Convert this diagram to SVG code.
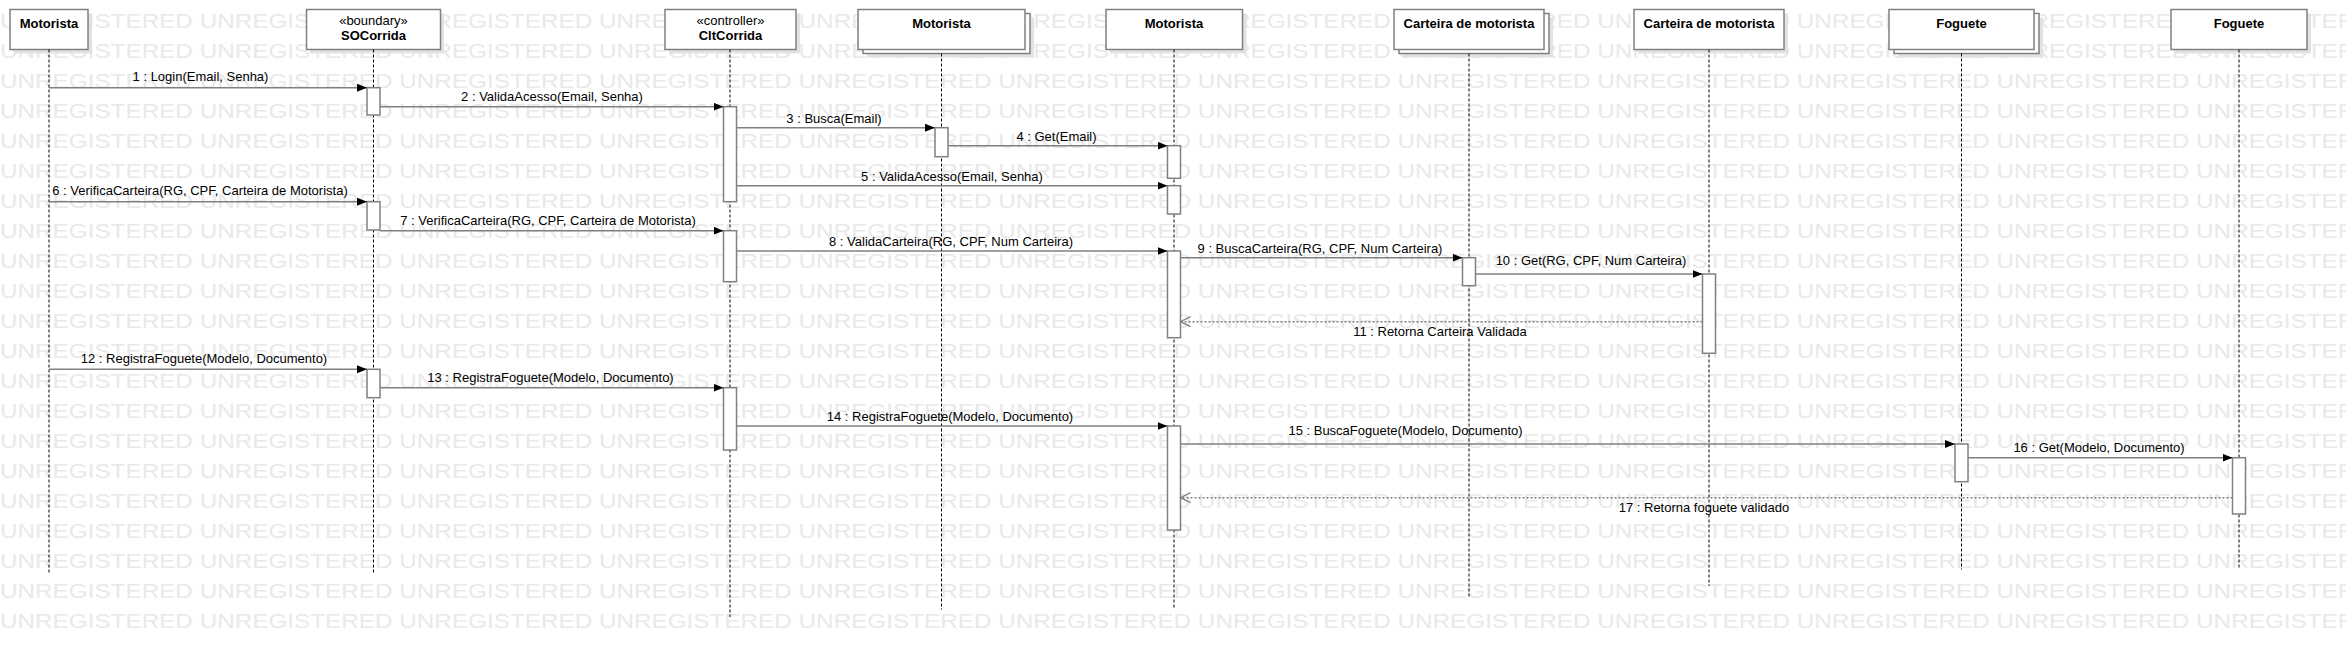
<svg xmlns="http://www.w3.org/2000/svg" width="2346" height="658" viewBox="0 0 2346 658">
<defs>
<style>
.wm{font-family:"Liberation Sans",Arial,sans-serif;font-size:21px;fill:#e9e9e9}
.hd{fill:#fff;stroke:#808080;stroke-width:1.5}
.sh{fill:#e2e2e2}
.t{font-family:"Liberation Sans",Arial,sans-serif;font-size:13px;fill:#000;text-anchor:middle}
.b{font-weight:bold}
.ll{stroke:#000;stroke-width:1;stroke-dasharray:3,2;fill:none}
.act{fill:#fff;stroke:#808080;stroke-width:1.5}
.msg{stroke:#808080;stroke-width:1.4;fill:none;marker-end:url(#ah)}
.ret{stroke:#808080;stroke-width:1.4;fill:none;stroke-dasharray:2,2;marker-end:url(#oh)}
</style>
<marker id="ah" markerUnits="userSpaceOnUse" markerWidth="11" markerHeight="9" refX="10" refY="4" orient="auto"><path d="M0,0 L10,4 L0,8 z" fill="#000"/></marker>
<marker id="oh" markerUnits="userSpaceOnUse" markerWidth="12" markerHeight="12" refX="10" refY="5" orient="auto"><path d="M0,0 L10,5 L0,10" fill="none" stroke="#808080" stroke-width="1.3"/></marker>
</defs>
<rect width="2346" height="658" fill="#fff"/>
<g id="watermark">
<text class="wm" x="0" y="28.3" textLength="2389" lengthAdjust="spacingAndGlyphs">UNREGISTERED UNREGISTERED UNREGISTERED UNREGISTERED UNREGISTERED UNREGISTERED UNREGISTERED UNREGISTERED UNREGISTERED UNREGISTERED UNREGISTERED UNREGISTERED</text>
<text class="wm" x="0" y="58.3" textLength="2389" lengthAdjust="spacingAndGlyphs">UNREGISTERED UNREGISTERED UNREGISTERED UNREGISTERED UNREGISTERED UNREGISTERED UNREGISTERED UNREGISTERED UNREGISTERED UNREGISTERED UNREGISTERED UNREGISTERED</text>
<text class="wm" x="0" y="88.3" textLength="2389" lengthAdjust="spacingAndGlyphs">UNREGISTERED UNREGISTERED UNREGISTERED UNREGISTERED UNREGISTERED UNREGISTERED UNREGISTERED UNREGISTERED UNREGISTERED UNREGISTERED UNREGISTERED UNREGISTERED</text>
<text class="wm" x="0" y="118.3" textLength="2389" lengthAdjust="spacingAndGlyphs">UNREGISTERED UNREGISTERED UNREGISTERED UNREGISTERED UNREGISTERED UNREGISTERED UNREGISTERED UNREGISTERED UNREGISTERED UNREGISTERED UNREGISTERED UNREGISTERED</text>
<text class="wm" x="0" y="148.3" textLength="2389" lengthAdjust="spacingAndGlyphs">UNREGISTERED UNREGISTERED UNREGISTERED UNREGISTERED UNREGISTERED UNREGISTERED UNREGISTERED UNREGISTERED UNREGISTERED UNREGISTERED UNREGISTERED UNREGISTERED</text>
<text class="wm" x="0" y="178.3" textLength="2389" lengthAdjust="spacingAndGlyphs">UNREGISTERED UNREGISTERED UNREGISTERED UNREGISTERED UNREGISTERED UNREGISTERED UNREGISTERED UNREGISTERED UNREGISTERED UNREGISTERED UNREGISTERED UNREGISTERED</text>
<text class="wm" x="0" y="208.3" textLength="2389" lengthAdjust="spacingAndGlyphs">UNREGISTERED UNREGISTERED UNREGISTERED UNREGISTERED UNREGISTERED UNREGISTERED UNREGISTERED UNREGISTERED UNREGISTERED UNREGISTERED UNREGISTERED UNREGISTERED</text>
<text class="wm" x="0" y="238.3" textLength="2389" lengthAdjust="spacingAndGlyphs">UNREGISTERED UNREGISTERED UNREGISTERED UNREGISTERED UNREGISTERED UNREGISTERED UNREGISTERED UNREGISTERED UNREGISTERED UNREGISTERED UNREGISTERED UNREGISTERED</text>
<text class="wm" x="0" y="268.3" textLength="2389" lengthAdjust="spacingAndGlyphs">UNREGISTERED UNREGISTERED UNREGISTERED UNREGISTERED UNREGISTERED UNREGISTERED UNREGISTERED UNREGISTERED UNREGISTERED UNREGISTERED UNREGISTERED UNREGISTERED</text>
<text class="wm" x="0" y="298.3" textLength="2389" lengthAdjust="spacingAndGlyphs">UNREGISTERED UNREGISTERED UNREGISTERED UNREGISTERED UNREGISTERED UNREGISTERED UNREGISTERED UNREGISTERED UNREGISTERED UNREGISTERED UNREGISTERED UNREGISTERED</text>
<text class="wm" x="0" y="328.3" textLength="2389" lengthAdjust="spacingAndGlyphs">UNREGISTERED UNREGISTERED UNREGISTERED UNREGISTERED UNREGISTERED UNREGISTERED UNREGISTERED UNREGISTERED UNREGISTERED UNREGISTERED UNREGISTERED UNREGISTERED</text>
<text class="wm" x="0" y="358.3" textLength="2389" lengthAdjust="spacingAndGlyphs">UNREGISTERED UNREGISTERED UNREGISTERED UNREGISTERED UNREGISTERED UNREGISTERED UNREGISTERED UNREGISTERED UNREGISTERED UNREGISTERED UNREGISTERED UNREGISTERED</text>
<text class="wm" x="0" y="388.3" textLength="2389" lengthAdjust="spacingAndGlyphs">UNREGISTERED UNREGISTERED UNREGISTERED UNREGISTERED UNREGISTERED UNREGISTERED UNREGISTERED UNREGISTERED UNREGISTERED UNREGISTERED UNREGISTERED UNREGISTERED</text>
<text class="wm" x="0" y="418.3" textLength="2389" lengthAdjust="spacingAndGlyphs">UNREGISTERED UNREGISTERED UNREGISTERED UNREGISTERED UNREGISTERED UNREGISTERED UNREGISTERED UNREGISTERED UNREGISTERED UNREGISTERED UNREGISTERED UNREGISTERED</text>
<text class="wm" x="0" y="448.3" textLength="2389" lengthAdjust="spacingAndGlyphs">UNREGISTERED UNREGISTERED UNREGISTERED UNREGISTERED UNREGISTERED UNREGISTERED UNREGISTERED UNREGISTERED UNREGISTERED UNREGISTERED UNREGISTERED UNREGISTERED</text>
<text class="wm" x="0" y="478.3" textLength="2389" lengthAdjust="spacingAndGlyphs">UNREGISTERED UNREGISTERED UNREGISTERED UNREGISTERED UNREGISTERED UNREGISTERED UNREGISTERED UNREGISTERED UNREGISTERED UNREGISTERED UNREGISTERED UNREGISTERED</text>
<text class="wm" x="0" y="508.3" textLength="2389" lengthAdjust="spacingAndGlyphs">UNREGISTERED UNREGISTERED UNREGISTERED UNREGISTERED UNREGISTERED UNREGISTERED UNREGISTERED UNREGISTERED UNREGISTERED UNREGISTERED UNREGISTERED UNREGISTERED</text>
<text class="wm" x="0" y="538.3" textLength="2389" lengthAdjust="spacingAndGlyphs">UNREGISTERED UNREGISTERED UNREGISTERED UNREGISTERED UNREGISTERED UNREGISTERED UNREGISTERED UNREGISTERED UNREGISTERED UNREGISTERED UNREGISTERED UNREGISTERED</text>
<text class="wm" x="0" y="568.3" textLength="2389" lengthAdjust="spacingAndGlyphs">UNREGISTERED UNREGISTERED UNREGISTERED UNREGISTERED UNREGISTERED UNREGISTERED UNREGISTERED UNREGISTERED UNREGISTERED UNREGISTERED UNREGISTERED UNREGISTERED</text>
<text class="wm" x="0" y="598.3" textLength="2389" lengthAdjust="spacingAndGlyphs">UNREGISTERED UNREGISTERED UNREGISTERED UNREGISTERED UNREGISTERED UNREGISTERED UNREGISTERED UNREGISTERED UNREGISTERED UNREGISTERED UNREGISTERED UNREGISTERED</text>
<text class="wm" x="0" y="628.3" textLength="2389" lengthAdjust="spacingAndGlyphs">UNREGISTERED UNREGISTERED UNREGISTERED UNREGISTERED UNREGISTERED UNREGISTERED UNREGISTERED UNREGISTERED UNREGISTERED UNREGISTERED UNREGISTERED UNREGISTERED</text>
</g>

<g id="lifeline-motorista1">
<rect class="sh" x="14" y="13.5" width="78" height="40"/>
<rect class="hd" x="10" y="9.5" width="78" height="40"/>
<text class="t b" x="49" y="27.5">Motorista</text>
<line class="ll" x1="49" y1="49.5" x2="49" y2="574.5"/>
</g>

<g id="lifeline-socorrida">
<rect class="sh" x="310" y="13.5" width="134" height="40"/>
<rect class="hd" x="306.5" y="9.5" width="134" height="40"/>
<text class="t" x="373.5" y="25">«boundary»</text>
<text class="t b" x="373.5" y="40">SOCorrida</text>
<line class="ll" x1="373.5" y1="49.5" x2="373.5" y2="574.5"/>
<rect class="act" x="367" y="87.7" width="13" height="27.3"/>
<rect class="act" x="367" y="201.7" width="13" height="28.3"/>
<rect class="act" x="367" y="369.3" width="13" height="28.4"/>
</g>

<g id="lifeline-cltcorrida">
<rect class="sh" x="669" y="13.5" width="131" height="40"/>
<rect class="hd" x="665" y="9.5" width="131" height="40"/>
<text class="t" x="730.5" y="25">«controller»</text>
<text class="t b" x="730.5" y="40">CltCorrida</text>
<line class="ll" x1="730" y1="49.5" x2="730" y2="617"/>
<rect class="act" x="723.5" y="106.7" width="13" height="95"/>
<rect class="act" x="723.5" y="230.7" width="13" height="51"/>
<rect class="act" x="723.5" y="387.7" width="13" height="62.3"/>
</g>

<g id="lifeline-motorista-multi">
<rect class="sh" x="867" y="17.5" width="167" height="40"/>
<rect class="hd" x="863" y="13.5" width="167" height="40"/>
<rect class="hd" x="858" y="9.5" width="167" height="40"/>
<text class="t b" x="941.5" y="27.5">Motorista</text>
<line class="ll" x1="941.5" y1="53.5" x2="941.5" y2="609.5"/>
<rect class="act" x="935" y="127.7" width="13" height="29"/>
</g>

<g id="lifeline-motorista2">
<rect class="sh" x="1110" y="13.5" width="136.5" height="40"/>
<rect class="hd" x="1106" y="9.5" width="136.5" height="40"/>
<text class="t b" x="1174" y="27.5">Motorista</text>
<line class="ll" x1="1174" y1="49.5" x2="1174" y2="609.5"/>
<rect class="act" x="1167.5" y="145.7" width="13" height="32.6"/>
<rect class="act" x="1167.5" y="185.7" width="13" height="28.3"/>
<rect class="act" x="1167.5" y="251" width="13" height="86.7"/>
<rect class="act" x="1167.5" y="426" width="13" height="104"/>
</g>

<g id="lifeline-carteira-multi">
<rect class="sh" x="1403" y="17.5" width="150" height="40"/>
<rect class="hd" x="1399" y="13.5" width="150" height="40"/>
<rect class="hd" x="1394" y="9.5" width="150" height="40"/>
<text class="t b" x="1469" y="27.5">Carteira de motorista</text>
<line class="ll" x1="1469" y1="53.5" x2="1469" y2="598.5"/>
<rect class="act" x="1462.5" y="257.7" width="13" height="28"/>
</g>

<g id="lifeline-carteira">
<rect class="sh" x="1638" y="13.5" width="150" height="40"/>
<rect class="hd" x="1634" y="9.5" width="150" height="40"/>
<text class="t b" x="1709" y="27.5">Carteira de motorista</text>
<line class="ll" x1="1709" y1="49.5" x2="1709" y2="586"/>
<rect class="act" x="1702.5" y="274" width="13" height="79.3"/>
</g>

<g id="lifeline-foguete-multi">
<rect class="sh" x="1898" y="17.5" width="145" height="40"/>
<rect class="hd" x="1894" y="13.5" width="145" height="40"/>
<rect class="hd" x="1889" y="9.5" width="145" height="40"/>
<text class="t b" x="1961.5" y="27.5">Foguete</text>
<line class="ll" x1="1961.5" y1="53.5" x2="1961.5" y2="569.5"/>
<rect class="act" x="1955" y="444" width="13" height="37.7"/>
</g>

<g id="lifeline-foguete">
<rect class="sh" x="2175" y="13.5" width="136" height="40"/>
<rect class="hd" x="2171" y="9.5" width="136" height="40"/>
<text class="t b" x="2239" y="27.5">Foguete</text>
<line class="ll" x1="2239" y1="49.5" x2="2239" y2="569.5"/>
<rect class="act" x="2232.5" y="457.7" width="13" height="56.3"/>
</g>

<g id="connectors">
<line class="msg" x1="49" y1="87.7" x2="367" y2="87.7"/>
<text class="t" x="200.5" y="81">1 : Login(Email, Senha)</text>
<line class="msg" x1="380" y1="106.7" x2="723.5" y2="106.7"/>
<text class="t" x="552" y="101">2 : ValidaAcesso(Email, Senha)</text>
<line class="msg" x1="736.5" y1="127.7" x2="935" y2="127.7"/>
<text class="t" x="834" y="123">3 : Busca(Email)</text>
<line class="msg" x1="948" y1="145.7" x2="1167.5" y2="145.7"/>
<text class="t" x="1056.5" y="140.5">4 : Get(Email)</text>
<line class="msg" x1="736.5" y1="185.7" x2="1167.5" y2="185.7"/>
<text class="t" x="952" y="180.5">5 : ValidaAcesso(Email, Senha)</text>
<line class="msg" x1="49" y1="201.7" x2="367" y2="201.7"/>
<text class="t" x="200" y="194.5">6 : VerificaCarteira(RG, CPF, Carteira de Motorista)</text>
<line class="msg" x1="380" y1="230.7" x2="723.5" y2="230.7"/>
<text class="t" x="548" y="224.5">7 : VerificaCarteira(RG, CPF, Carteira de Motorista)</text>
<line class="msg" x1="736.5" y1="251" x2="1167.5" y2="251"/>
<text class="t" x="951" y="246">8 : ValidaCarteira(RG, CPF, Num Carteira)</text>
<line class="msg" x1="1180.5" y1="257.7" x2="1462.5" y2="257.7"/>
<text class="t" x="1320" y="253">9 : BuscaCarteira(RG, CPF, Num Carteira)</text>
<line class="msg" x1="1475.5" y1="274" x2="1702.5" y2="274"/>
<text class="t" x="1591" y="264.5">10 : Get(RG, CPF, Num Carteira)</text>
<line class="ret" x1="1702.5" y1="321.7" x2="1180.5" y2="321.7"/>
<text class="t" x="1440" y="336">11 : Retorna Carteira Validada</text>
<line class="msg" x1="49" y1="369.3" x2="367" y2="369.3"/>
<text class="t" x="204" y="363">12 : RegistraFoguete(Modelo, Documento)</text>
<line class="msg" x1="380" y1="387.7" x2="723.5" y2="387.7"/>
<text class="t" x="550.5" y="382">13 : RegistraFoguete(Modelo, Documento)</text>
<line class="msg" x1="736.5" y1="426" x2="1167.5" y2="426"/>
<text class="t" x="950" y="420.5">14 : RegistraFoguete(Modelo, Documento)</text>
<line class="msg" x1="1180.5" y1="444" x2="1955" y2="444"/>
<text class="t" x="1405.5" y="435">15 : BuscaFoguete(Modelo, Documento)</text>
<line class="msg" x1="1968" y1="457.7" x2="2232.5" y2="457.7"/>
<text class="t" x="2099" y="452">16 : Get(Modelo, Documento)</text>
<line class="ret" x1="2232.5" y1="497.7" x2="1180.5" y2="497.7"/>
<text class="t" x="1704" y="512">17 : Retorna foguete validado</text>
</g>
</svg>
